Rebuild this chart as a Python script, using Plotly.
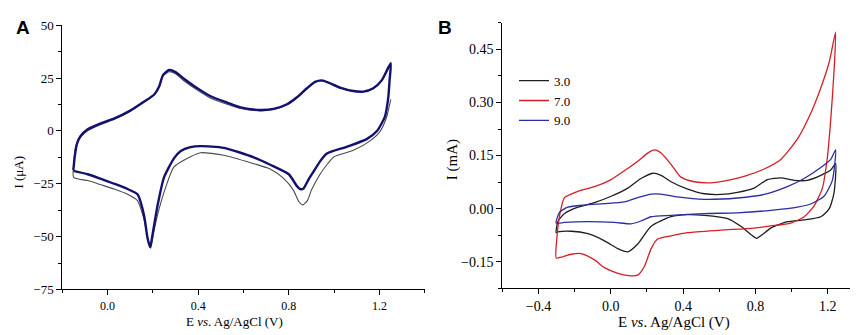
import plotly.graph_objects as go

# ---------------- Panel A data (E in V, I in uA) ----------------
a_navy_E = [-0.151, -0.145, -0.135, -0.12, -0.088, -0.03, 0.03, 0.10, 0.16, 0.205, 0.227, 0.245, 0.271, 0.30, 0.337,
            0.396, 0.455, 0.528, 0.587, 0.674, 0.733, 0.792, 0.836, 0.88, 0.916, 0.946, 0.975, 1.026, 1.085, 1.129,
            1.173, 1.21, 1.25,
            1.245, 1.239, 1.224, 1.188, 1.144, 1.056, 0.968, 0.938, 0.905, 0.887, 0.865, 0.85, 0.835, 0.80, 0.718,
            0.645, 0.513, 0.41, 0.366, 0.323, 0.293, 0.249, 0.22, 0.20, 0.188, 0.176, 0.161, 0.132, 0.088, 0.029,
            -0.029, -0.088, -0.151]
a_navy_I = [-18.5, -12, -6, -2.5, 0.8, 3.6, 5.9, 9.6, 13.8, 17.1, 20.9, 26.5, 28.8, 27.8, 24.7,
            20.2, 16.4, 13.4, 11.1, 9.9, 10.4, 12.6, 15.9, 20.2, 23.2, 23.9, 22.9, 20.5, 18.9, 18.6,
            20.2, 23.9, 32,
            24, 15.6, 6.6, -0.2, -3.9, -7.5, -10.7, -14.4, -20, -23, -27.2, -27.5, -26, -20.5, -16,
            -12.5, -8.0, -7.2, -7.7, -9.5, -13, -22, -35.6, -48, -55, -50.5, -40, -30, -27.5, -25,
            -22.7, -20.5, -18.9]

a_grey_E = [1.25, 1.232, 1.203, 1.159, 1.085, 1.0, 0.968, 0.938, 0.90, 0.882, 0.862, 0.845, 0.82, 0.777, 0.718,
            0.645, 0.513, 0.41, 0.366, 0.293, 0.257, 0.22, 0.20, 0.19, 0.178, 0.161, 0.132, 0.088, 0.029, -0.029,
            -0.088, -0.15,
            -0.148, -0.14, -0.12, -0.088, -0.03, 0.03, 0.10, 0.16, 0.205, 0.227, 0.245, 0.271, 0.30, 0.337, 0.396,
            0.455, 0.528, 0.587, 0.674, 0.733, 0.792, 0.836, 0.88, 0.916, 0.946, 0.975, 1.026, 1.085, 1.129, 1.173,
            1.21, 1.25]
a_grey_I = [14.9, 6.6, -0.2, -4.7, -9.2, -12.2, -16, -20.5, -28, -33, -35, -33.5, -28, -22.5, -18,
            -15.5, -11.5, -10.3, -12.2, -17, -26.5, -40, -50, -55.5, -51, -42, -33, -30, -27.5, -25.5,
            -23.5, -22,
            -14, -7, -3, 0, 3, 5.5, 9.3, 13.6, 17, 20.5, 26, 28, 27, 23.7, 19.3,
            15.5, 12.6, 10.6, 9.5, 10.2, 12.4, 15.7, 20, 23, 23.6, 22.7, 20.3, 18.7, 18.4, 20,
            23.7, 31.5]

# ---------------- Panel B data (E in V, I in mA) ----------------
b_names = ["3.0", "7.0", "9.0"]
b_ph3_E = [-0.302, -0.293, -0.256, -0.182, -0.09, 0.002, 0.094, 0.167, 0.232, 0.278, 0.333, 0.425, 0.517, 0.609,
           0.7, 0.792, 0.866, 0.94, 1.013, 1.087, 1.161, 1.216, 1.243,
           1.234, 1.207, 1.161, 1.069, 0.976, 0.884, 0.839, 0.807, 0.774, 0.719, 0.646, 0.517, 0.425, 0.333,
           0.223, 0.149, 0.094, 0.039, -0.035, -0.127, -0.219, -0.293, -0.302]
b_ph3_I = [-0.068, -0.037, -0.014, 0.004, 0.017, 0.035, 0.058, 0.085, 0.10, 0.094, 0.076, 0.055, 0.042, 0.04,
           0.046, 0.058, 0.082, 0.087, 0.08, 0.08, 0.094, 0.109, 0.127,
           0.044, -0.001, -0.023, -0.032, -0.037, -0.055, -0.073, -0.084, -0.073, -0.05, -0.028, -0.019, -0.017,
           -0.023, -0.05, -0.10, -0.122, -0.113, -0.091, -0.071, -0.064, -0.066, -0.068]

b_ph7_E = [-0.302, -0.298, -0.283, -0.256, -0.182, -0.09, 0.002, 0.075, 0.149, 0.204, 0.241, 0.278, 0.333, 0.388,
           0.461, 0.553, 0.646, 0.737, 0.848, 0.94, 1.032, 1.105, 1.161, 1.207, 1.243,
           1.234, 1.216, 1.197, 1.17, 1.124, 1.069, 0.995, 0.884, 0.792, 0.609, 0.425, 0.333, 0.259, 0.223, 0.186,
           0.149, 0.112, 0.039, -0.035, -0.09, -0.164, -0.219, -0.274, -0.302]
b_ph7_I = [-0.14, -0.082, -0.019, 0.031, 0.049, 0.062, 0.082, 0.107, 0.134, 0.157, 0.166, 0.157, 0.125, 0.089,
           0.076, 0.073, 0.08, 0.091, 0.112, 0.139, 0.197, 0.269, 0.341, 0.413, 0.499,
           0.386, 0.251, 0.143, 0.058, 0.008, -0.023, -0.041, -0.049, -0.055, -0.061, -0.068, -0.077, -0.086,
           -0.113, -0.163, -0.188, -0.19, -0.183, -0.167, -0.145, -0.127, -0.129, -0.137, -0.14]

b_ph9_E = [-0.302, -0.283, -0.237, -0.146, -0.035, 0.075, 0.149, 0.223, 0.278, 0.37, 0.517, 0.7, 0.848, 0.976,
           1.069, 1.161, 1.216, 1.243,
           1.225, 1.179, 1.105, 1.032, 0.884, 0.7, 0.517, 0.333, 0.223, 0.167, 0.112, 0.02, -0.127, -0.256, -0.302]
b_ph9_I = [-0.041, -0.01, 0.004, 0.01, 0.014, 0.019, 0.031, 0.041, 0.041, 0.033, 0.026, 0.03, 0.04, 0.062,
           0.085, 0.116, 0.139, 0.166,
           0.08, 0.035, 0.013, 0.004, -0.005, -0.012, -0.014, -0.019, -0.023, -0.035, -0.043, -0.039, -0.037,
           -0.039, -0.041]

SERIF = "Liberation Serif"
W, H = 858, 335

fig = go.Figure()

# Panel A
fig.add_trace(go.Scatter(x=a_grey_E, y=a_grey_I, mode="lines", xaxis="x", yaxis="y",
                         line=dict(color="#4a4a55", width=1.1, shape="spline", smoothing=0.6),
                         showlegend=False))
fig.add_trace(go.Scatter(x=a_navy_E, y=a_navy_I, mode="lines", xaxis="x", yaxis="y",
                         line=dict(color="#12126e", width=2.4, shape="spline", smoothing=0.6),
                         showlegend=False))

# Panel B
for name, xs, ys, col in [(b_names[0], b_ph3_E, b_ph3_I, "#1e1e1e"),
                          (b_names[1], b_ph7_E, b_ph7_I, "#d41f26"),
                          (b_names[2], b_ph9_E, b_ph9_I, "#2a2ea0")]:
    fig.add_trace(go.Scatter(x=xs, y=ys, mode="lines", name=name, xaxis="x2", yaxis="y2",
                             line=dict(color=col, width=1.3, shape="spline", smoothing=0.6)))


def px_x(p):
    return p / W


def px_y(p):
    return 1 - p / H


axis_common = dict(showline=True, linecolor="#000", linewidth=1, ticks="outside", ticklen=5,
                   tickcolor="#000", showgrid=False, zeroline=False, mirror=False)


def minor(d):
    return dict(dtick=d, tick0=0, ticks="outside", ticklen=3, tickcolor="#000", showgrid=False)


fig.update_layout(
    width=W, height=H,
    margin=dict(l=0, r=0, t=0, b=0),
    paper_bgcolor="white", plot_bgcolor="white",
    font=dict(family=SERIF, color="#000"),
    xaxis=dict(domain=[px_x(54.3), px_x(416.7)], range=[-0.2, 1.4], tickvals=[0.0, 0.4, 0.8, 1.2],
               tickformat=".1f", tickfont=dict(size=12, family=SERIF, color="#000"), anchor="y",
               minor=minor(0.2), **axis_common),
    yaxis=dict(domain=[px_y(287.3), px_y(10.7)], range=[-75, 50], tickvals=[-75, -50, -25, 0, 25, 50],
               tickfont=dict(size=13, family=SERIF, color="#000"), anchor="x",
               minor=minor(12.5), **axis_common),
    xaxis2=dict(domain=[px_x(494.3), px_x(856)], range=[-0.6, 1.4], tickvals=[-0.4, 0.0, 0.4, 0.8, 1.2],
                tickformat=".1f", tickfont=dict(size=14, family=SERIF, color="#000"), anchor="y2",
                minor=minor(0.2), **axis_common),
    yaxis2=dict(domain=[px_y(286), px_y(8.3)], range=[-0.225, 0.525],
                tickvals=[-0.15, 0.0, 0.15, 0.30, 0.45], tickformat=".2f",
                tickfont=dict(size=14, family=SERIF, color="#000"), anchor="x2",
                minor=minor(0.075), **axis_common),
    legend=dict(x=px_x(506), y=px_y(53), xanchor="left", yanchor="top", bgcolor="rgba(0,0,0,0)",
                font=dict(size=13, family=SERIF, color="#000"), tracegroupgap=0, itemwidth=30),
    showlegend=True,
)

annotations = [
    dict(text="<b>A</b>", x=px_x(15), y=px_y(13), font=dict(family="Liberation Sans", size=19)),
    dict(text="<b>B</b>", x=px_x(437), y=px_y(13), font=dict(family="Liberation Sans", size=19)),
    dict(text="E <i>vs</i>. Ag/AgCl (V)", x=px_x(226), y=px_y(321), font=dict(size=13, family=SERIF)),
    dict(text="E <i>vs</i>. Ag/AgCl (V)", x=px_x(666), y=px_y(322), font=dict(size=15, family=SERIF)),
    dict(text="I (μA)", x=px_x(11), y=px_y(165), textangle=-90, font=dict(size=13, family=SERIF)),
    dict(text="I (mA)", x=px_x(444), y=px_y(152), textangle=-90, font=dict(size=15, family=SERIF)),
]
for a in annotations:
    a.update(xref="paper", yref="paper", showarrow=False, xanchor="center", yanchor="middle")
fig.update_layout(annotations=annotations)

fig.write_html("out.html")
